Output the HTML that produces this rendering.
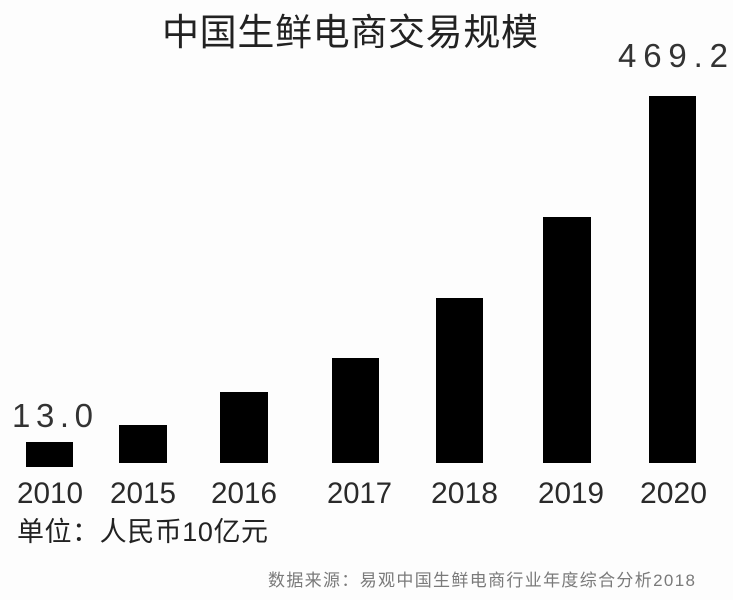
<!DOCTYPE html>
<html><head><meta charset="utf-8"><style>
html,body{margin:0;padding:0;background:#fdfdfd;}
svg{display:block;}
</style></head><body>
<svg width="733" height="600" viewBox="0 0 733 600" xmlns="http://www.w3.org/2000/svg">
<rect x="0" y="0" width="733" height="600" fill="#fdfdfd"/>
<text x="162" y="45" font-family="'Liberation Sans','Noto Sans CJK SC',sans-serif" font-size="37" textLength="376" lengthAdjust="spacing" fill="#222">中国生鲜电商交易规模</text>
<g fill="#000">
<rect x="26" y="442" width="47" height="25"/>
<rect x="119" y="425" width="48" height="38"/>
<rect x="220" y="392" width="48" height="71"/>
<rect x="332" y="358" width="47" height="105"/>
<rect x="436" y="298" width="47" height="165"/>
<rect x="543" y="217" width="48" height="246"/>
<rect x="649" y="96" width="47" height="367"/>
</g>
<g font-family="'Liberation Sans',sans-serif" font-size="33" fill="#333">
<text x="12" y="427" textLength="81" lengthAdjust="spacing">13.0</text>
<text x="618" y="67" textLength="110" lengthAdjust="spacing">469.2</text>
</g>
<g font-family="'Liberation Sans',sans-serif" font-size="29.5" fill="#2a2a2a">
<text x="17" y="503" textLength="66" lengthAdjust="spacingAndGlyphs">2010</text>
<text x="110" y="503" textLength="66" lengthAdjust="spacingAndGlyphs">2015</text>
<text x="211" y="503" textLength="66" lengthAdjust="spacingAndGlyphs">2016</text>
<text x="327" y="503" textLength="65" lengthAdjust="spacingAndGlyphs">2017</text>
<text x="431" y="503" textLength="67" lengthAdjust="spacingAndGlyphs">2018</text>
<text x="538" y="503" textLength="66" lengthAdjust="spacingAndGlyphs">2019</text>
<text x="640" y="503" textLength="67" lengthAdjust="spacingAndGlyphs">2020</text>
</g>
<text x="17" y="541" font-family="'Liberation Sans','Noto Sans CJK SC',sans-serif" font-size="27" textLength="251" lengthAdjust="spacing" fill="#222">单位：人民币10亿元</text>
<text x="268" y="586" font-family="'Liberation Sans','Noto Sans CJK SC',sans-serif" font-size="17" textLength="427" lengthAdjust="spacing" fill="#7a7a7a">数据来源：易观中国生鲜电商行业年度综合分析2018</text>
</svg>
</body></html>
